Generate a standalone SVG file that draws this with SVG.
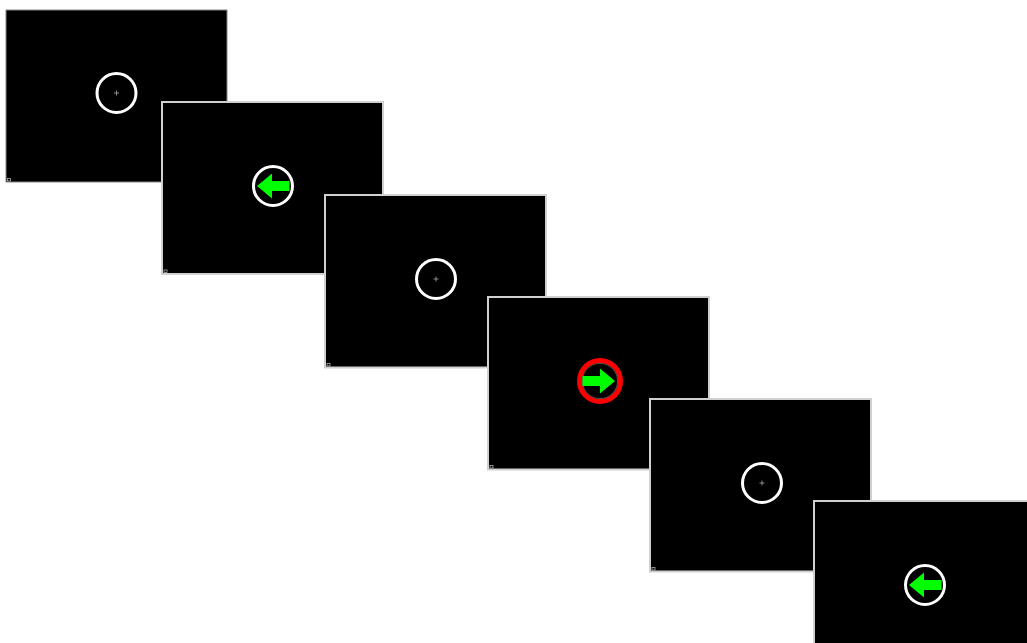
<svg xmlns="http://www.w3.org/2000/svg" width="1027" height="643" viewBox="0 0 1027 643">
<style>
.scr{fill:#000;stroke:#d0d0d0;stroke-width:2}
.ring{fill:none;stroke:#fff;stroke-width:3}
.red{fill:none;stroke:#f00;stroke-width:5}
.fix{stroke:#aaa;stroke-width:0.8}
.arr{fill:#00ff00}
.mark{fill:none;stroke:#aaa;stroke-width:0.8}
</style>
<defs>
<path id="larrow" class="arr" d="M-16,0 L-1,-12.5 L-1,-5 L16.5,-5 L16.5,5 L-1,5 L-1,12.5 Z"/>
<g id="fixation"><line class="fix" x1="-2.5" y1="0" x2="2.5" y2="0"/><line class="fix" x1="0" y1="-2.5" x2="0" y2="2.5"/></g>
</defs>
<rect width="1027" height="643" fill="#fff"/>
<g id="panel1" transform="translate(6,10)">
<rect class="scr" x="0" y="0" width="221" height="172" style="stroke:#888;stroke-width:1"/>
<rect class="mark" x="1.5" y="168.5" width="3" height="2.5"/>
<circle class="ring" cx="110.5" cy="83" r="19.5"/>
<use href="#fixation" x="110.5" y="83"/>
</g>
<g id="panel2" transform="translate(162,102)">
<rect class="scr" x="0" y="0" width="221" height="172"/>
<rect class="mark" x="2" y="168" width="3" height="2.5"/>
<circle class="ring" cx="111" cy="84" r="19.5"/>
<use href="#larrow" x="111" y="84"/>
</g>
<g id="panel3" transform="translate(325,195)">
<rect class="scr" x="0" y="0" width="221" height="172.5"/>
<rect class="mark" x="2" y="168.5" width="3" height="2.5"/>
<circle class="ring" cx="111" cy="84" r="19.5"/>
<use href="#fixation" x="111" y="84"/>
</g>
<g id="panel4" transform="translate(488,297)">
<rect class="scr" x="0" y="0" width="221" height="172.5"/>
<rect class="mark" x="2" y="168.5" width="3" height="2.5"/>
<circle class="red" cx="112" cy="84" r="20.5"/>
<circle fill="none" stroke="#888" stroke-width="0.6" cx="112" cy="84" r="17.6"/>
<use href="#larrow" transform="translate(111,84) scale(-1,1)"/>
</g>
<g id="panel5" transform="translate(650,399)">
<rect class="scr" x="0" y="0" width="221" height="172.5"/>
<rect class="mark" x="2" y="168.5" width="3" height="2.5"/>
<circle class="ring" cx="112" cy="84" r="19.5"/>
<use href="#fixation" x="112" y="84"/>
</g>
<g id="panel6" transform="translate(814,501)">
<rect class="scr" x="0" y="0" width="221" height="172"/>
<circle class="ring" cx="111" cy="84" r="19.5"/>
<use href="#larrow" x="111" y="84"/>
</g>
</svg>
